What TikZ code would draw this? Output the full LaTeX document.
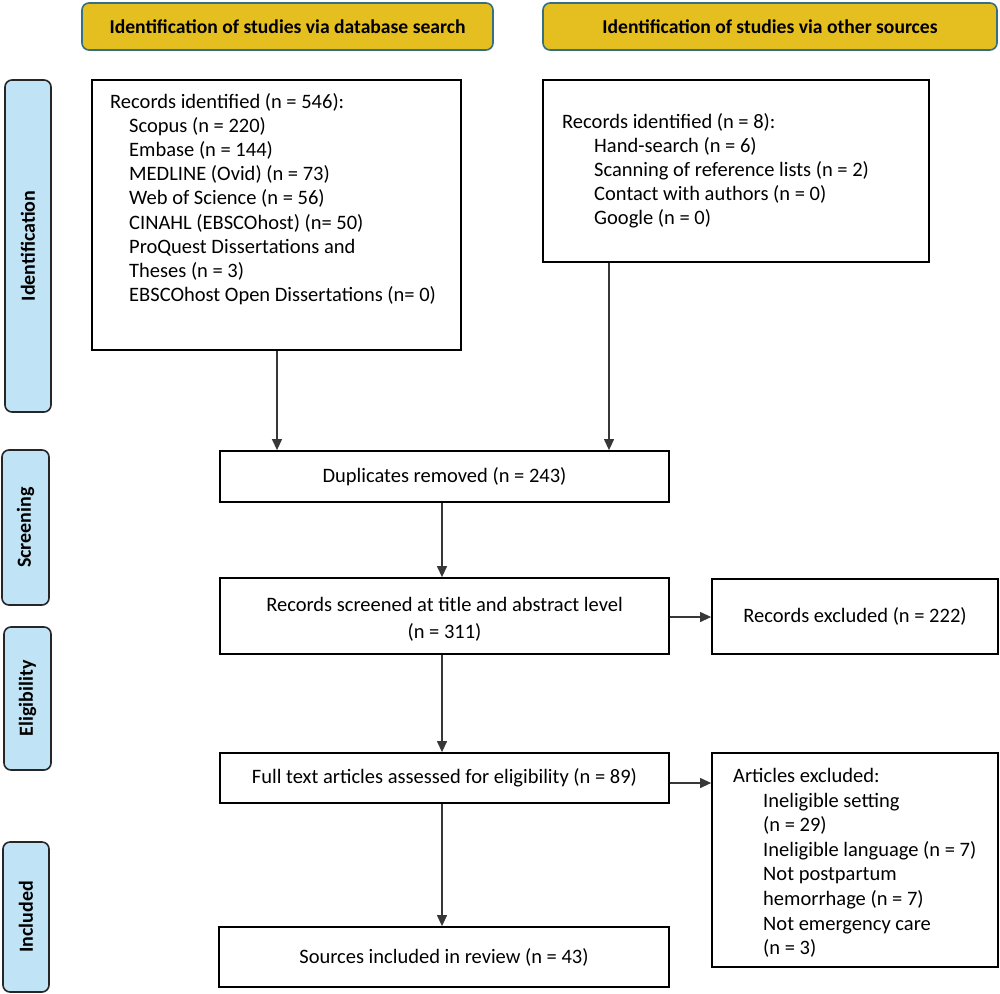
\documentclass[tikz,border=0pt]{standalone}
\usepackage{fontspec}
\setmainfont{Carlito}
\usetikzlibrary{arrows.meta}
\definecolor{hdrfill}{RGB}{229,190,32}
\definecolor{hdrline}{RGB}{52,112,130}
\definecolor{phasefill}{RGB}{192,228,246}
\definecolor{arrgray}{RGB}{55,55,55}
\begin{document}
\begin{tikzpicture}[x=1pt,y=-1pt,
  box/.style={draw=black, line width=1.8pt, inner sep=0pt, fill=white},
  hdr/.style={draw=hdrline, fill=hdrfill, line width=1.6pt, rounded corners=7pt,
    inner sep=0pt, font=\bfseries\fontsize{19.6}{22}\selectfont},
  phase/.style={draw=black!85, fill=phasefill, line width=1.6pt, rounded corners=7pt,
    inner sep=0pt, rotate=90, font=\bfseries\fontsize{20}{22}\selectfont},
  txt/.style={font=\fontsize{20.5}{24.2}\selectfont, align=left, inner sep=0pt},
  ctxt/.style={font=\fontsize{20.5}{27}\selectfont, align=center, inner sep=0pt},
  one/.style={font=\fontsize{20.5}{24}\selectfont},
  arr/.style={draw=arrgray, line width=1.2pt, -{Triangle[length=11pt,width=10pt]}}
]
\useasboundingbox (0,0) rectangle (1000,993);

% headers
\node[hdr, minimum width=411pt, minimum height=47pt] (h1) at (287.5,26.5) {Identification of studies via database search};
\node[hdr, minimum width=454pt, minimum height=47pt] (h2) at (770,26.5) {Identification of studies via other sources};

% phase bars
\node[phase, minimum width=332pt, minimum height=46pt] (p1) at (28,246) {Identification};
\node[phase, minimum width=155pt, minimum height=47pt] (p2) at (25.5,527.5) {Screening};
\node[phase, minimum width=143pt, minimum height=47pt] (p3) at (27.5,698.5) {Eligibility};
\node[phase, minimum width=150pt, minimum height=46pt] (p4) at (26,917) {Included};

% boxes
\node[box, minimum width=369pt, minimum height=270pt] (db) at (276.5,215) {};
\node[txt, anchor=north west] (dbt) at (110,93) {Records identified (n = 546):\\
\hspace*{19pt}Scopus (n = 220)\\
\hspace*{19pt}Embase (n = 144)\\
\hspace*{19pt}MEDLINE (Ovid) (n = 73)\\
\hspace*{19pt}Web of Science (n = 56)\\
\hspace*{19pt}CINAHL (EBSCOhost) (n= 50)\\
\hspace*{19pt}ProQuest Dissertations and\\
\hspace*{19pt}Theses (n = 3)\\
\hspace*{19pt}EBSCOhost Open Dissertations (n= 0)};

\node[box, minimum width=386pt, minimum height=182pt] (os) at (736,171) {};
\node[txt, anchor=north west] (ost) at (562,113) {Records identified (n = 8):\\
\hspace*{32pt}Hand-search (n = 6)\\
\hspace*{32pt}Scanning of reference lists (n = 2)\\
\hspace*{32pt}Contact with authors (n = 0)\\
\hspace*{32pt}Google (n = 0)};

\node[box, minimum width=449pt, minimum height=51pt, one] (dup) at (444.5,476.5) {Duplicates removed (n = 243)};
\node[box, minimum width=449pt, minimum height=76pt] (scr) at (444.5,616) {};
\node[ctxt] (scrt) at (444.5,619) {Records screened at title and abstract level\\(n = 311)};
\node[box, minimum width=286pt, minimum height=75pt, one] (rex) at (855,616.5) {Records excluded (n = 222)};
\node[box, minimum width=449pt, minimum height=50pt, one] (ft) at (444.5,778) {Full text articles assessed for eligibility (n = 89)};
\node[box, minimum width=286pt, minimum height=214pt] (aex) at (855,860) {};
\node[txt, anchor=north west, font=\fontsize{20.5}{24.6}\selectfont] (aext) at (733,768) {Articles excluded:\\
\hspace*{30pt}Ineligible setting\\
\hspace*{30pt}(n = 29)\\
\hspace*{30pt}Ineligible language (n = 7)\\
\hspace*{30pt}Not postpartum\\
\hspace*{30pt}hemorrhage (n = 7)\\
\hspace*{30pt}Not emergency care\\
\hspace*{30pt}(n = 3)};
\node[box, minimum width=450pt, minimum height=60pt, one] (src) at (444,957) {Sources included in review (n = 43)};

% connectors
\coordinate (xl) at (277,0);
\coordinate (xr) at (609,0);
\coordinate (xm) at (442,0);
\coordinate (yre) at (0,617);
\coordinate (yae) at (0,783);
\draw[arr] (db.south -| xl) -- (dup.north -| xl);
\draw[arr] (os.south -| xr) -- (dup.north -| xr);
\draw[arr] (dup.south -| xm) -- (scr.north -| xm);
\draw[arr] (scr.south -| xm) -- (ft.north -| xm);
\draw[arr] (ft.south -| xm) -- (src.north -| xm);
\draw[arr] (scr.east |- yre) -- (rex.west |- yre);
\draw[arr] (ft.east |- yae) -- (aex.west |- yae);
\end{tikzpicture}
\end{document}
